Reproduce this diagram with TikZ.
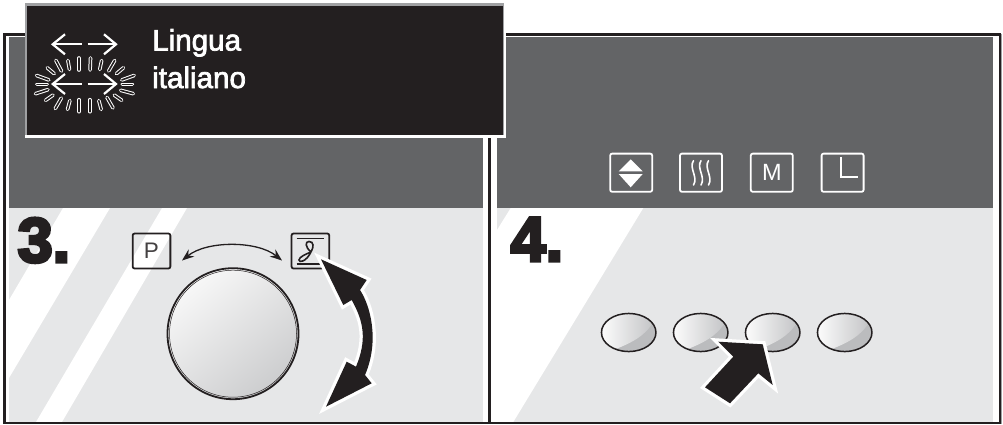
\documentclass[tikz,border=0pt]{standalone}
\usepackage{fontspec}
\setmainfont{Liberation Sans}
\newfontfamily\dispfont[FakeBold=2.4]{Liberation Sans}
\newfontfamily\stepfont[BoldFeatures={FakeBold=5}]{Liberation Sans}
\usetikzlibrary{shapes.geometric, arrows.meta, positioning, calc}
\definecolor{inkblack}{RGB}{35,31,32}
\definecolor{paneldark}{RGB}{99,100,102}
\definecolor{panellight}{RGB}{230,231,232}
\definecolor{edgegray}{RGB}{160,161,163}
\definecolor{btngray}{RGB}{187,188,190}
\begin{document}
\begin{tikzpicture}[
        x=1pt, y=-1pt,
        frameline/.style={draw=inkblack, line width=2.6pt},
        dispText/.style={font=\dispfont\fontsize{29.6}{30}\selectfont, text=white, anchor=base west, inner sep=0pt},
        stepText/.style={font=\stepfont\bfseries\fontsize{63}{64}\selectfont, text=inkblack, anchor=base west, inner sep=0pt},
        flash/.style={draw=white, double=inkblack, double distance=1.6pt, line width=1pt, line cap=round},
        wideArrow/.style={fill=inkblack, preaction={draw=white, line width=6.5pt, miter limit=10}},
        keyDark/.style={draw=white, line width=1.8pt, rounded corners=2pt, minimum width=42pt, minimum height=38.2pt, inner sep=0pt, text=white, font=\fontsize{23.5}{24}\selectfont},
        keyLight/.style={draw=inkblack, line width=1.8pt, rounded corners=2pt, minimum width=37.7pt, minimum height=35pt, inner sep=0pt, text=inkblack!85, font=\fontsize{22.5}{23}\selectfont},
        oval/.style={ellipse, draw=inkblack, line width=1.5pt, fill=btngray, minimum width=54.5pt, minimum height=38.1pt, inner sep=0pt,
            path picture={
                \begin{scope}[shift={(path picture bounding box.center)}]
                    \fill[left color=white, right color=btngray!90] (-30,-22) -- (26,-22) -- (26,-13) .. controls (18,2) and (5,10) .. (-17,18) -- (-30,20) -- cycle;
                \end{scope}
            }}
    ]
        \useasboundingbox (0,0) rectangle (1003,424);
        \fill[white] (0,0) rectangle (1003,424);

        % Left panel
        \fill[paneldark] (9,37) rectangle (483,208);
        \fill[panellight] (9,208) rectangle (483,422);
        \fill[white] (63,208) -- (110,208) -- (9,378) -- (9,300) -- cycle;
        \fill[white] (162,208) -- (187,208) -- (62,422) -- (36,422) -- cycle;

        % Right panel
        \fill[paneldark] (497,37) rectangle (993,208);
        \fill[panellight] (497,208) rectangle (993,422);
        \fill[white] (510.7,208) -- (643.3,208) -- (513.3,422) -- (497,422) -- (497,230) -- cycle;

        % Frame
        \draw[frameline] (4.3,423) -- (4.3,34.7) -- (1000,34.7) -- (1000,423);
        \draw[frameline] (489.3,34.7) -- (489.3,423);
        \draw[draw=inkblack, line width=2pt] (3,423) -- (1001,423);
        \draw[draw=edgegray, line width=1pt] (1001.5,33.5) -- (1001.5,424);

        % Display
        \fill[white] (24.5,3) rectangle (505.5,138);
        \fill[edgegray] (24.5,3) rectangle (504,135);
        \fill[inkblack] (27,6) rectangle (503,135);
        \fill[white] (504,3) rectangle (505.5,33);
        \node[dispText] (lingua) at (152,50.5) {Lingua};
        \node[dispText] (italiano) at (152,88) {italiano};

        \foreach \ay in {44.3,84} {
            \draw[white, line width=2.2pt] (52.7,\ay) -- (81.7,\ay);
            \draw[white, line width=2.2pt, line join=miter] (65,\ay-10) -- (52.7,\ay) -- (65,\ay+10);
            \draw[white, line width=2.2pt] (87.7,\ay) -- (116,\ay);
            \draw[white, line width=2.2pt, line join=miter] (104,\ay-10) -- (116,\ay) -- (104,\ay+10);
        }
        \foreach \rx/\ry/\ra/\rl in {79/64/90/6,90.3/64/88/6,68.7/65/100/4.5,100.7/65/78/4.5,58.7/65.7/118/6,111.7/65.7/60/6,50.7/70.7/140/4.5,120/70.7/40/4.5,42.7/77.7/160/6.5,128/77.7/20/6.5,42/84.3/180/5,127.3/84.3/0/5,41.7/91.7/198/6.5,127/92/-15/6.5,49.3/97.7/215/4.5,118/97.7/-35/4.5,58.3/103.3/240/6,110/102.7/-60/6,68.7/105/255/4.5,100/105/-75/4.5,79/105.7/270/6,89.7/105.7/-90/6} {
            \draw[flash] (\rx,\ry) +(\ra:\rl pt) -- +(\ra+180:\rl pt);
        }

        % Step 3
        \node[stepText] (three) at (17.5,262) {3.};
        \node[keyLight] (keyp) at (151.5,251) {P};
        \node[keyLight] (keyfan) at (310.4,251) {};
        \draw[inkblack, line width=1.5pt] (296.7,238.3) -- (324,238.3);
        \draw[inkblack, line width=1.5pt] (296.7,264) -- (324,264);
        \draw[inkblack, line width=1.6pt] (311,252) .. controls (305,247) and (305,241.5) .. (309,241.5) .. controls (314,241.5) and (314,247) .. (311,252);
        \draw[inkblack, line width=1.6pt] (311,252) .. controls (306,254) and (299,257) .. (299,260) .. controls (299,263) and (306,262) .. (311,252);

        \coordinate (arcleft) at (182,260.5);
        \coordinate (arcright) at (282,260.5);
        \draw[{Stealth[length=12pt,width=9pt]}-{Stealth[length=12pt,width=9pt]}, inkblack, line width=1.3pt] (arcleft) .. controls (207,240.5) and (257,240.5) .. (arcright);

        \node[circle, draw=inkblack, line width=1.8pt, minimum size=131pt, inner sep=0pt, top color=white!97!black, bottom color=btngray!75, shading angle=40] (knob) at (233,333.7) {};
        \draw[inkblack, line width=0.5pt] (knob.center) circle (63.5);

        \path[wideArrow] (321,259.3) -- (366.7,280) -- (360,290) .. controls (370,305) and (380,340) .. (365,375) -- (371.7,383.3) -- (326,406.7) -- (346.7,361.7) -- (356,366.7) .. controls (367,340) and (364,322) .. (351.7,300) -- (343.3,305) -- cycle;

        % Step 4
        \node[stepText] (four) at (510.5,261) {4.};
        \node[keyDark] (keyarrows) at (631.2,172.7) {};
        \node[keyDark, right=26pt of keyarrows] (keyheat) {};
        \node[keyDark, right=27pt of keyheat] (keym) {M};
        \node[keyDark, right=27pt of keym] (keyl) {};

        \fill[white] (630.7,159.3) -- (642.7,171.3) -- (618.7,171.3) -- cycle;
        \fill[white] (618.7,174) -- (642.7,174) -- (630.7,187.3) -- cycle;
        \foreach \hx in {693.5,701,708.5} {
            \draw[white, line width=1.6pt, line cap=round] (\hx,160.7) .. controls (\hx-5,168) and (\hx+5,177) .. (\hx,185);
        }
        \draw[white, line width=2pt] (840.7,157.3) -- (840.7,176.7) -- (858.3,176.7);

        \node[oval] (btna) at (628.7,332.5) {};
        \node[oval, right=16pt of btna] (btnb) {};
        \node[oval, right=16pt of btnb] (btnc) {};
        \node[oval, right=16pt of btnc] (btnd) {};

        \path[wideArrow] (718.3,341.7) -- (762.7,344.3) -- (772.7,385) -- (758.3,373.3) -- (730,403.3) -- (705,387.3) -- (733.3,356.7) -- cycle;

    \end{tikzpicture}
\end{document}
